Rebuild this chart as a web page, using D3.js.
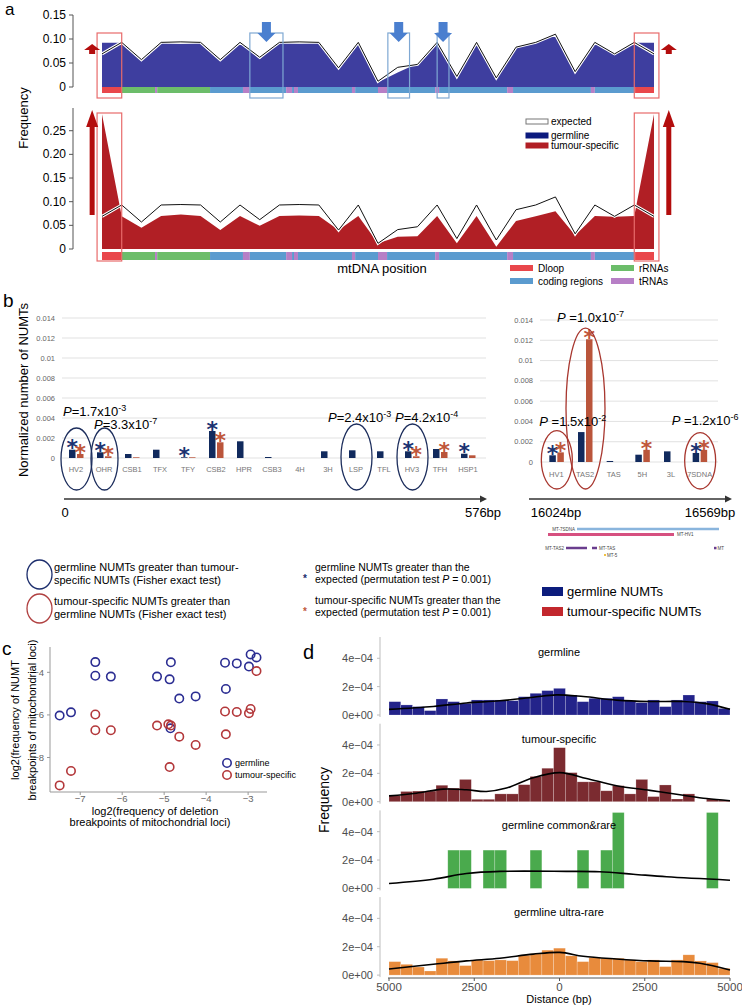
<!DOCTYPE html>
<html><head><meta charset="utf-8">
<script src="https://cdn.jsdelivr.net/npm/d3@7"></script>
<style>body{margin:0;background:#fff}svg{display:block;font-family:"Liberation Sans",Arial,sans-serif}</style>
</head><body><svg id="c" width="742" height="1007"></svg>
<script>
// ================= DATA =================
// Panel a : mtDNA position bins
const mtPos = [0,1,2,3,4,5,6,7,8,9,10,11,12,13,14,15,16,17,18,19,20,21,22,23,24,25,26,27,28];
const expectedFreq = [0.069,0.093,0.057,0.093,0.094,0.093,0.057,0.093,0.062,0.093,0.094,0.093,0.040,0.093,0.012,0.041,0.047,0.093,0.022,0.093,0.019,0.083,0.093,0.110,0.032,0.093,0.069,0.093,0.069];
const germlineFreq = [0.092,0.092,0.057,0.092,0.090,0.092,0.054,0.092,0.058,0.092,0.091,0.092,0.038,0.092,0.010,0.030,0.049,0.092,0.017,0.092,0.017,0.083,0.092,0.112,0.029,0.092,0.069,0.092,0.092];
const tumourFreq = [0.285,0.069,0.045,0.070,0.073,0.070,0.040,0.070,0.049,0.070,0.071,0.070,0.040,0.070,0.012,0.026,0.027,0.070,0.012,0.070,0.005,0.059,0.069,0.080,0.029,0.070,0.068,0.070,0.285];
const regionTypes = ["Dloop","rRNA","tRNA","rRNA","coding","tRNA","coding","tRNA","coding","tRNA","coding","tRNA","coding","tRNA","coding","tRNA","coding","tRNA","coding","tRNA","coding","Dloop"];
const regionStart = [0,1.0,2.69,2.8,5.48,7.15,7.5,9.34,9.64,9.74,9.94,12.68,12.84,14.0,14.46,16.9,17.1,20.55,20.85,24.8,25.0,27.04];
const regionEnd   = [1.0,2.69,2.8,5.48,7.15,7.5,9.34,9.64,9.74,9.94,12.68,12.84,14.0,14.46,16.9,17.1,20.55,20.85,24.8,25.0,27.04,28];
const redBoxSpans = [[-0.25,1.0],[27.0,28.25]];
const blueBoxSpans = [[7.5,9.18],[14.5,15.6],[17.0,17.6]];
const redArrowPos = [-0.5,28.75];
const topTicks = [0,0.05,0.10,0.15];
const topTickLabels = ["0","0.05","0.10","0.15"];
const botTicks = [0,0.05,0.10,0.15,0.20,0.25];
const botTickLabels = ["0","0.05","0.10","0.15","0.20","0.25"];

// Panel b : D-loop elements
const leftCats = ["HV2","OHR","CSB1","TFX","TFY","CSB2","HPR","CSB3","4H","3H","LSP","TFL","HV3","TFH","HSP1"];
const leftGerm = [0.00083,0.00057,0.0004,0.00083,0.00007,0.0027,0.00167,0.0001,0,0.00067,0.00077,0.00067,0.00067,0.0009,0.00043];
const leftTum  = [0.0004,0.00017,0.00007,0,0.00007,0.00157,0,0,0,0,0,0,0.00017,0.0006,0.00027];
const leftGermStar = [1,1,0,0,1,1,0,0,0,0,0,0,1,0,1];
const leftTumStar  = [1,1,0,0,0,1,0,0,0,0,0,0,1,1,0];
const rightCats = ["HV1","TAS2","TAS","5H","3L","7SDNA"];
const rightGerm = [0.00066,0.00295,0.0001,0.00072,0.00105,0.00089];
const rightTum  = [0.00095,0.0121,0,0.0012,0,0.0012];
const rightGermStar = [1,0,0,0,0,1];
const rightTumStar  = [1,1,0,1,0,1];
const bTicks = [0,0.002,0.004,0.006,0.008,0.01,0.012,0.014];
const bTickLabels = ["0","0.002","0.004","0.006","0.008","0.01","0.012","0.014"];
const leftEllipseCats = ["HV2","OHR","LSP","HV3"];
const leftEllipseTop = [0.003,0.003,0.0034,0.0034];
const rightEllipseCats = ["HV1","TAS2","7SDNA"];
const rightEllipseTop = [0.0031,0.0132,0.0029];
const pLeftCats = ["HV2","OHR","LSP","HV3"];
const pLeftMant = ["1.7","3.3","2.4","4.2"];
const pLeftExp = ["-3","-7","-3","-4"];
const pRightCats = ["HV1","TAS2","7SDNA"];
const pRightMant = ["1.5","1.0","1.2"];
const pRightExp = ["-2","-7","-6"];

// Panel c : breakpoints
const germX = [-7.49,-7.22,-6.64,-6.64,-6.27,-5.17,-4.84,-4.87,-4.64,-4.25,-4.85,-3.55,-3.27,-2.98,-2.94,-2.80,-3.53];
const germY = [-6.03,-5.88,-3.52,-4.16,-4.20,-4.20,-3.53,-4.33,-5.23,-5.13,-6.63,-3.55,-3.58,-3.73,-3.16,-3.30,-4.78];
const tumX = [-7.49,-7.22,-6.64,-6.64,-6.27,-5.17,-4.84,-4.90,-4.87,-4.64,-4.25,-3.55,-3.27,-2.98,-2.94,-2.80,-3.53];
const tumY = [-9.31,-8.63,-5.98,-6.72,-6.72,-6.50,-6.50,-6.44,-8.45,-7.02,-7.41,-5.84,-5.86,-5.92,-5.72,-3.94,-6.91];
const cXTicks = [-7,-6,-5,-4,-3];
const cYTicks = [-4,-6,-8];

// Panel d : distance histograms (frequency x 1e-4), 29 bins over -5000..5000 bp
const distRange = [-5000,5000];
const binCount = 29;
const germBins = [0.94,0.71,0.59,0.31,1.13,0.94,0.82,1.06,1.06,1.06,1.01,1.29,1.53,1.72,1.88,1.41,0.94,1.18,1.18,1.29,1.01,0.87,1.06,0.59,1.06,1.41,0.94,0.99,0.47];
const tumBins  = [0.43,0.72,0.75,0.75,1.16,0.96,1.57,0.17,0.17,0.55,0.55,1.2,1.78,2.36,3.81,2.05,1.40,1.40,0.77,1.13,0.55,1.57,0.36,1.18,0.19,0.55,0,0.19,0.12];
const commonBins = [0,0,0,0,0,2.7,2.7,0,2.7,2.7,0,0,2.7,0,0,0,2.7,0,2.7,5.35,0,0,0,0,0,0,0,5.35,0];
const ultraBins = [0.95,0.76,0.57,0.29,1.19,1.0,0.67,1.07,1.02,1.07,1.02,1.40,1.5,1.76,1.9,1.36,0.95,1.24,1.19,1.19,1.07,0.95,1.07,0.6,1.07,1.43,1.0,0.88,0.48];
const germDensX = [-5000,-3700,-2730,-1750,-770,-90,700,1670,2650,3630,4300,5000];
const germDensY = [0.4,0.6,0.85,1.0,1.25,1.42,1.3,1.05,0.95,0.95,0.8,0.4];
const tumDensX = [-5000,-4198,-3415,-2730,-2143,-1556,-773,10,793,1673,2652,3630,4315,5000];
const tumDensY = [0.41,0.6,0.89,0.84,0.72,0.96,1.69,2.05,1.64,1.13,0.80,0.45,0.22,0.07];
const comDensX = [-5000,-3700,-2730,-1750,200,1180,2160,3140,5000];
const comDensY = [0.35,0.65,1.05,1.2,1.2,1.17,1.0,0.82,0.58];
const ultDensX = [-5000,-3700,-2730,-1750,-770,10,695,1670,2650,3630,4120,5000];
const ultDensY = [0.43,0.76,1.0,1.19,1.48,1.6,1.33,1.14,1.0,0.95,0.83,0.36];
const facetNames = ["germline","tumour-specific","germline common&rare","germline ultra-rare"];
const dTicks = [-5000,-2500,0,2500,5000];
const dTickLabels = ["5000","2500","0","2500","5000"];
const dYTicks = [0,2,4];
const dYTickLabels = ["0e+00","2e\u221204","4e\u221204"];

// ================= DRAW =================
const svg = d3.select("#c");
function T(g,x,y,s,o={}){const t=g.append("text").attr("x",x).attr("y",y).text(s);for(const k in o)t.attr(k,o[k]);return t;}

// ---------- Panel a ----------
const A = svg.append("g");
T(A,5,15,"a",{"font-size":17});
const xA = d3.scaleLinear().domain([0,28]).range([102,654]);
const yTop = d3.scaleLinear().domain([0,0.15]).range([87,15]);
const yBot = d3.scaleLinear().domain([0,0.298]).range([249,108]);
const regColor = {Dloop:"#e9474b",rRNA:"#6cbd6a",coding:"#5b9bcf",tRNA:"#b77fc6"};

A.append("path").datum(mtPos).attr("fill","#3e3e9f")
  .attr("d",d3.area().x(d=>xA(d)).y0(yTop(0)).y1(d=>yTop(germlineFreq[d])));
const expLine = (ys)=>d3.line().x(d=>xA(d)).y(d=>ys(expectedFreq[d]));
A.append("path").datum(mtPos).attr("fill","none").attr("stroke","#fff").attr("stroke-width",3).attr("d",expLine(yTop));
A.append("path").datum(mtPos).attr("fill","none").attr("stroke","#111").attr("stroke-width",1).attr("d",expLine(yTop));

A.append("path").datum(mtPos).attr("fill","#b11f25")
  .attr("d",d3.area().x(d=>xA(d)).y0(yBot(0)).y1(d=>yBot(tumourFreq[d])));
A.append("path").datum(mtPos).attr("fill","none").attr("stroke","#fff").attr("stroke-width",3).attr("d",expLine(yBot));
A.append("path").datum(mtPos).attr("fill","none").attr("stroke","#111").attr("stroke-width",1).attr("d",expLine(yBot));

// region strips
[[87,6],[252,8]].forEach(([y0,h])=>{
  A.selectAll(null).data(regionTypes).enter().append("rect")
   .attr("x",(d,i)=>xA(regionStart[i])).attr("width",(d,i)=>xA(regionEnd[i])-xA(regionStart[i]))
   .attr("y",y0).attr("height",h).attr("fill",d=>regColor[d]);
});
// axes
function yAxisA(scale,ticks,labels,top){
  const g=A.append("g");
  g.append("line").attr("x1",73).attr("x2",73).attr("y1",scale(0)).attr("y2",top).attr("stroke","#555");
  ticks.forEach((t,i)=>{
    g.append("line").attr("x1",69).attr("x2",73).attr("y1",scale(t)).attr("y2",scale(t)).attr("stroke","#555");
    T(g,66,scale(t)+4,labels[i],{"font-size":12});
  });
  g.selectAll("text").attr("text-anchor","end");
}
yAxisA(yTop,topTicks,topTickLabels,yTop(0.15));
yAxisA(yBot,botTicks,botTickLabels,yBot(0.298));
T(A,0,0,"Frequency",{"font-size":13,transform:"translate(28,118) rotate(-90)","text-anchor":"middle"});
T(A,382,273,"mtDNA position",{"font-size":13,"text-anchor":"middle"});

// highlight boxes
redBoxSpans.forEach(s=>{
  A.append("rect").attr("x",xA(s[0])).attr("width",xA(s[1])-xA(s[0])).attr("y",33).attr("height",65).attr("fill","none").attr("stroke","#e86b6b").attr("stroke-width",1.2);
  A.append("rect").attr("x",xA(s[0])).attr("width",xA(s[1])-xA(s[0])).attr("y",113).attr("height",148).attr("fill","none").attr("stroke","#e86b6b").attr("stroke-width",1.2);
});
blueBoxSpans.forEach(s=>{
  A.append("rect").attr("x",xA(s[0])).attr("width",xA(s[1])-xA(s[0])).attr("y",33).attr("height",65).attr("fill","none").attr("stroke","#7fa8d3").attr("stroke-width",1.2);
  const cx=xA((s[0]+s[1])/2);
  A.append("path").attr("fill","#4a7fcf").attr("d",`M${cx-4.5},22H${cx+4.5}V33H${cx+9}L${cx},42L${cx-9},33H${cx-4.5}Z`);
});
redArrowPos.forEach(p=>{
  const cx=xA(p);
  A.append("path").attr("fill","#b30d0d").attr("d",`M${cx-3},54V50H${cx-8}L${cx},44L${cx+8},50H${cx+3}V54Z`);
  A.append("path").attr("fill","#b30d0d").attr("d",`M${cx-2.5},215V127H${cx-6}L${cx},110L${cx+6},127H${cx+2.5}V215Z`);
});
// legend
const legA=[["expected","#fff","#777",123],["germline","#0c1a7e","#0c1a7e",137],["tumour-specific","#b11f25","#b11f25",147]];
legA.forEach(l=>{
  A.append("rect").attr("x",526).attr("y",l[3]-4).attr("width",22).attr("height",5).attr("fill",l[1]).attr("stroke",l[2]).attr("stroke-width",1);
  T(A,551,l[3]+2,l[0],{"font-size":10});
});
const legR=[["Dloop","Dloop",510,268],["rRNAs","rRNA",611,268],["coding regions","coding",510,281],["tRNAs","tRNA",611,281]];
legR.forEach(l=>{
  A.append("rect").attr("x",l[2]).attr("y",l[3]-3).attr("width",23).attr("height",6).attr("fill",regColor[l[1]]);
  T(A,l[2]+28,l[3]+3.5,l[0],{"font-size":10});
});

// ---------- Panel b ----------
const B = svg.append("g");
T(B,3,307,"b",{"font-size":19});
T(B,0,0,"Normalized number of NUMTs",{"font-size":13,transform:"translate(28,390) rotate(-90)","text-anchor":"middle"});
const navy="#112a5d", rust="#ba553b";
function barPanel(cats,germ,tum,gStar,tStar,xr,yr,gridX,labX,catY){
  const x=d3.scaleBand().domain(cats).range(xr);
  const y=d3.scaleLinear().domain([0,0.014]).range(yr);
  bTicks.forEach((t,i)=>{
    B.append("line").attr("x1",gridX[0]).attr("x2",gridX[1]).attr("y1",y(t)).attr("y2",y(t)).attr("stroke","#d9d9d9").attr("stroke-width",0.8);
    T(B,labX,y(t)+2.5,bTickLabels[i],{"font-size":7.5,"text-anchor":"end",fill:"#666"});
  });
  const c=d=>x(d)+x.bandwidth()/2;
  B.selectAll(null).data(cats).enter().append("rect").attr("x",d=>c(d)-7).attr("width",6.5)
    .attr("y",(d,i)=>y(germ[i])).attr("height",(d,i)=>y(0)-y(germ[i])).attr("fill",navy);
  B.selectAll(null).data(cats).enter().append("rect").attr("x",d=>c(d)+1).attr("width",6.5)
    .attr("y",(d,i)=>y(tum[i])).attr("height",(d,i)=>y(0)-y(tum[i])).attr("fill",rust);
  cats.forEach((d,i)=>{
    T(B,c(d),catY,d,{"font-size":7.5,"text-anchor":"middle",fill:"#777"});
    if(gStar[i]) T(B,c(d)-3.75,y(germ[i])+5.7,"*",{"font-size":22,"font-weight":"bold","text-anchor":"middle",fill:"#1a3372","font-family":"DejaVu Sans"});
    if(tStar[i]) T(B,c(d)+4.25,y(tum[i])+5.7,"*",{"font-size":22,"font-weight":"bold","text-anchor":"middle",fill:"#c0563a","font-family":"DejaVu Sans"});
  });
  return {x,y,c};
}
const bl = barPanel(leftCats,leftGerm,leftTum,leftGermStar,leftTumStar,[62,482],[458,318],[62,486],55,472);
const br = barPanel(rightCats,rightGerm,rightTum,rightGermStar,rightTumStar,[542,714],[462,320],[540,718],533,477);
function ellipses(p,cats,tops,color,bottomY){
  cats.forEach((d,i)=>{
    const top=p.y(tops[i]);
    const rx = d==="TAS2"?19.5:(d==="OHR"?13.5:15.5);
    B.append("ellipse").attr("cx",p.c(d)+0.5).attr("cy",(top+bottomY)/2).attr("rx",rx).attr("ry",(bottomY-top)/2)
      .attr("fill","none").attr("stroke",color).attr("stroke-width",1.3);
  });
}
ellipses(bl,leftEllipseCats,leftEllipseTop,"#1c2d5c",490);
ellipses(br,rightEllipseCats,rightEllipseTop,"#a8372f",489);
function pLabel(x,y,mant,exp,sp){
  const t=B.append("text").attr("x",x).attr("y",y).attr("font-size",13);
  t.append("tspan").attr("font-style","italic").text("P");
  t.append("tspan").text((sp?" ":"")+"="+mant+"x10");
  t.append("tspan").attr("dy",-5).attr("font-size",9).text(exp);
}
const pLeftLayout=[[-13,416],[-10,429],[-28,422],[-17,422]];
pLeftCats.forEach((d,i)=>pLabel(bl.c(d)+pLeftLayout[i][0],pLeftLayout[i][1],pLeftMant[i],pLeftExp[i],false));
const pRightLayout=[[-17,426],[-28,322],[-28,425]];
pRightCats.forEach((d,i)=>pLabel(br.c(d)+pRightLayout[i][0],pRightLayout[i][1],pRightMant[i],pRightExp[i],true));
// position arrows
function hArrow(x1,x2,y){
  B.append("line").attr("x1",x1).attr("x2",x2-6).attr("y1",y).attr("y2",y).attr("stroke","#333").attr("stroke-width",1.6);
  B.append("path").attr("fill","#333").attr("d",`M${x2-7},${y-3.5}L${x2},${y}L${x2-7},${y+3.5}Z`);
}
hArrow(64,487,499); hArrow(529,732,499);
T(B,65,517,"0",{"font-size":13,"text-anchor":"middle"});
T(B,483,517,"576bp",{"font-size":13,"text-anchor":"middle"});
T(B,556,517,"16024bp",{"font-size":13,"text-anchor":"middle"});
T(B,710,517,"16569bp",{"font-size":13,"text-anchor":"middle"});
// gene map
B.append("line").attr("x1",577).attr("x2",719).attr("y1",529).attr("y2",529).attr("stroke","#8ab5dd").attr("stroke-width",2.5);
T(B,575,530.5,"MT-7SDNA",{"font-size":4.5,"text-anchor":"end",fill:"#444"});
B.append("line").attr("x1",548).attr("x2",674).attr("y1",534.5).attr("y2",534.5).attr("stroke","#d65080").attr("stroke-width",3);
T(B,677,536,"MT-HV1",{"font-size":4.5,fill:"#444"});
T(B,564,549.5,"MT-TAS2",{"font-size":4.5,"text-anchor":"end",fill:"#444"});
B.append("line").attr("x1",566).attr("x2",587).attr("y1",548).attr("y2",548).attr("stroke","#6a3d8e").attr("stroke-width",2.5);
B.append("line").attr("x1",592).attr("x2",597).attr("y1",548).attr("y2",548).attr("stroke","#6a3d8e").attr("stroke-width",2.5);
T(B,599,549.5,"MT-TAS",{"font-size":4.5,fill:"#444"});
B.append("rect").attr("x",714).attr("y",546.8).attr("width",2.5).attr("height",2.5).attr("fill","#6a3d8e");
T(B,717.5,549.5,"MT",{"font-size":4.5,fill:"#444"});
B.append("rect").attr("x",604).attr("y",554).attr("width",2).attr("height",2).attr("fill","#f2c040");
T(B,607,556.5,"MT-5",{"font-size":4.5,fill:"#444"});
// legends
B.append("ellipse").attr("cx",39.5).attr("cy",574.5).attr("rx",12.5).attr("ry",14.5).attr("fill","none").attr("stroke","#1c2d6c").attr("stroke-width",1.3);
T(B,54,571,"germline NUMTs greater than tumour-",{"font-size":11});
T(B,54,584,"specific NUMTs (Fisher exact test)",{"font-size":11});
B.append("ellipse").attr("cx",39.5).attr("cy",608.5).attr("rx",12.5).attr("ry",14.5).attr("fill","none").attr("stroke","#b04040").attr("stroke-width",1.3);
T(B,54,605,"tumour-specific NUMTs greater than",{"font-size":11});
T(B,54,618,"germline NUMTs (Fisher exact test)",{"font-size":11});
function starLeg(y,color,l1){
  T(B,305,y+7,"*",{"font-size":10,"text-anchor":"middle",fill:color,"font-weight":"bold"});
  T(B,315,y-4,l1,{"font-size":10.5});
  const t=B.append("text").attr("x",315).attr("y",y+8).attr("font-size",10.5);
  t.append("tspan").text("expected (permutation test ");
  t.append("tspan").attr("font-style","italic").text("P");
  t.append("tspan").text(" = 0.001)");
}
starLeg(575,"#1c2d6c","germline NUMTs greater than the");
starLeg(608,"#c0563a","tumour-specific NUMTs greater than the");
B.append("rect").attr("x",542).attr("y",587).attr("width",21).attr("height",9).attr("fill","#0c1c7c");
T(B,567,596,"germline NUMTs",{"font-size":13});
B.append("rect").attr("x",542).attr("y",607).attr("width",21).attr("height",9).attr("fill","#c2272d");
T(B,567,616,"tumour-specific NUMTs",{"font-size":13});

// ---------- Panel c ----------
const C = svg.append("g");
T(C,2,655,"c",{"font-size":19});
const xC = d3.scaleLinear().domain([-7.72,-2.55]).range([50,267]);
const yC = d3.scaleLinear().domain([-9.62,-2.81]).range([792,647]);
C.append("line").attr("x1",50).attr("x2",267).attr("y1",792).attr("y2",792).attr("stroke","#999");
C.append("line").attr("x1",50).attr("x2",50).attr("y1",647).attr("y2",792).attr("stroke","#999");
cXTicks.forEach(t=>{
  C.append("line").attr("x1",xC(t)).attr("x2",xC(t)).attr("y1",792).attr("y2",795).attr("stroke","#999");
  T(C,xC(t),802,String(t).replace("-","\u2212"),{"font-size":9.5,"text-anchor":"middle",fill:"#666"});
});
cYTicks.forEach(t=>{
  C.append("line").attr("x1",47).attr("x2",50).attr("y1",yC(t)).attr("y2",yC(t)).attr("stroke","#999");
  T(C,44,yC(t)+3.5,String(t).replace("-","\u2212"),{"font-size":9.5,"text-anchor":"end",fill:"#666"});
});
C.selectAll(null).data(germX).enter().append("circle").attr("cx",d=>xC(d)).attr("cy",(d,i)=>yC(germY[i])).attr("r",4.2)
  .attr("fill","none").attr("stroke","#2b2d92").attr("stroke-width",1.6);
C.selectAll(null).data(tumX).enter().append("circle").attr("cx",d=>xC(d)).attr("cy",(d,i)=>yC(tumY[i])).attr("r",4.2)
  .attr("fill","none").attr("stroke","#b3373a").attr("stroke-width",1.6);
T(C,155,815,"log2(frequency of deletion",{"font-size":11,"text-anchor":"middle"});
T(C,150,826,"breakpoints of mitochondrial loci)",{"font-size":11,"text-anchor":"middle"});
T(C,0,0,"log2(frequency of NUMT",{"font-size":11,"text-anchor":"middle",transform:"translate(19,720) rotate(-90)"});
T(C,0,0,"breakpoints of mitochondrial loci)",{"font-size":11,"text-anchor":"middle",transform:"translate(36,720) rotate(-90)"});
C.append("circle").attr("cx",227).attr("cy",763).attr("r",4.2).attr("fill","none").attr("stroke","#2b2d92").attr("stroke-width",1.6);
T(C,235,766,"germline",{"font-size":9});
C.append("circle").attr("cx",227).attr("cy",775).attr("r",4.2).attr("fill","none").attr("stroke","#b3373a").attr("stroke-width",1.6);
T(C,235,778,"tumour-specific",{"font-size":9});

// ---------- Panel d ----------
const D = svg.append("g");
T(D,303,659,"d",{"font-size":20});
const xD = d3.scaleLinear().domain(distRange).range([389,730]);
const binW = (distRange[1]-distRange[0])/binCount;
const facetBins=[germBins,tumBins,commonBins,ultraBins];
const facetColors=["#23238a","#7b2b30","#4aaa4d","#e88b3c"];
const facetDX=[germDensX,tumDensX,comDensX,ultDensX];
const facetDY=[germDensY,tumDensY,comDensY,ultDensY];
facetNames.forEach((name,f)=>{
  const zero = 715 + f*86.7;
  const y = d3.scaleLinear().domain([0,5.5]).range([zero,zero-78]);
  const g = D.append("g");
  g.append("line").attr("x1",380).attr("x2",380).attr("y1",zero+2).attr("y2",zero-78).attr("stroke","#bdbdbd");
  dYTicks.forEach((t,i)=>{
    g.append("line").attr("x1",377).attr("x2",380).attr("y1",y(t)).attr("y2",y(t)).attr("stroke","#bdbdbd");
    T(g,373,y(t)+4,dYTickLabels[i],{"font-size":11,"text-anchor":"end",fill:"#4d4d4d"});
  });
  g.selectAll(null).data(facetBins[f]).enter().append("rect")
   .attr("x",(d,i)=>xD(distRange[0]+i*binW)).attr("width",(d,i)=>xD(distRange[0]+(i+1)*binW)-xD(distRange[0]+i*binW))
   .attr("y",d=>y(d)).attr("height",d=>y(0)-y(d)).attr("fill",facetColors[f])
   .attr("stroke","rgba(255,255,255,0.35)").attr("stroke-width",0.6);
  T(g,559,zero-59,name,{"font-size":11,"text-anchor":"middle"});
  g.append("path").datum(facetDX[f]).attr("fill","none").attr("stroke","#000").attr("stroke-width",1.6)
   .attr("d",d3.line().curve(d3.curveCatmullRom.alpha(0.5)).x(d=>xD(d)).y((d,i)=>y(facetDY[f][i])));
});
D.append("line").attr("x1",388).attr("x2",730).attr("y1",978).attr("y2",978).attr("stroke","#555");
dTicks.forEach((t,i)=>{
  D.append("line").attr("x1",xD(t)).attr("x2",xD(t)).attr("y1",978).attr("y2",981).attr("stroke","#555");
  T(D,xD(t),991,dTickLabels[i],{"font-size":11.5,"text-anchor":"middle",fill:"#4d4d4d"});
});
T(D,559,1003,"Distance (bp)",{"font-size":11,"text-anchor":"middle"});
T(D,0,0,"Frequency",{"font-size":14,"text-anchor":"middle",transform:"translate(329,800) rotate(-90)"});
</script></body></html>
